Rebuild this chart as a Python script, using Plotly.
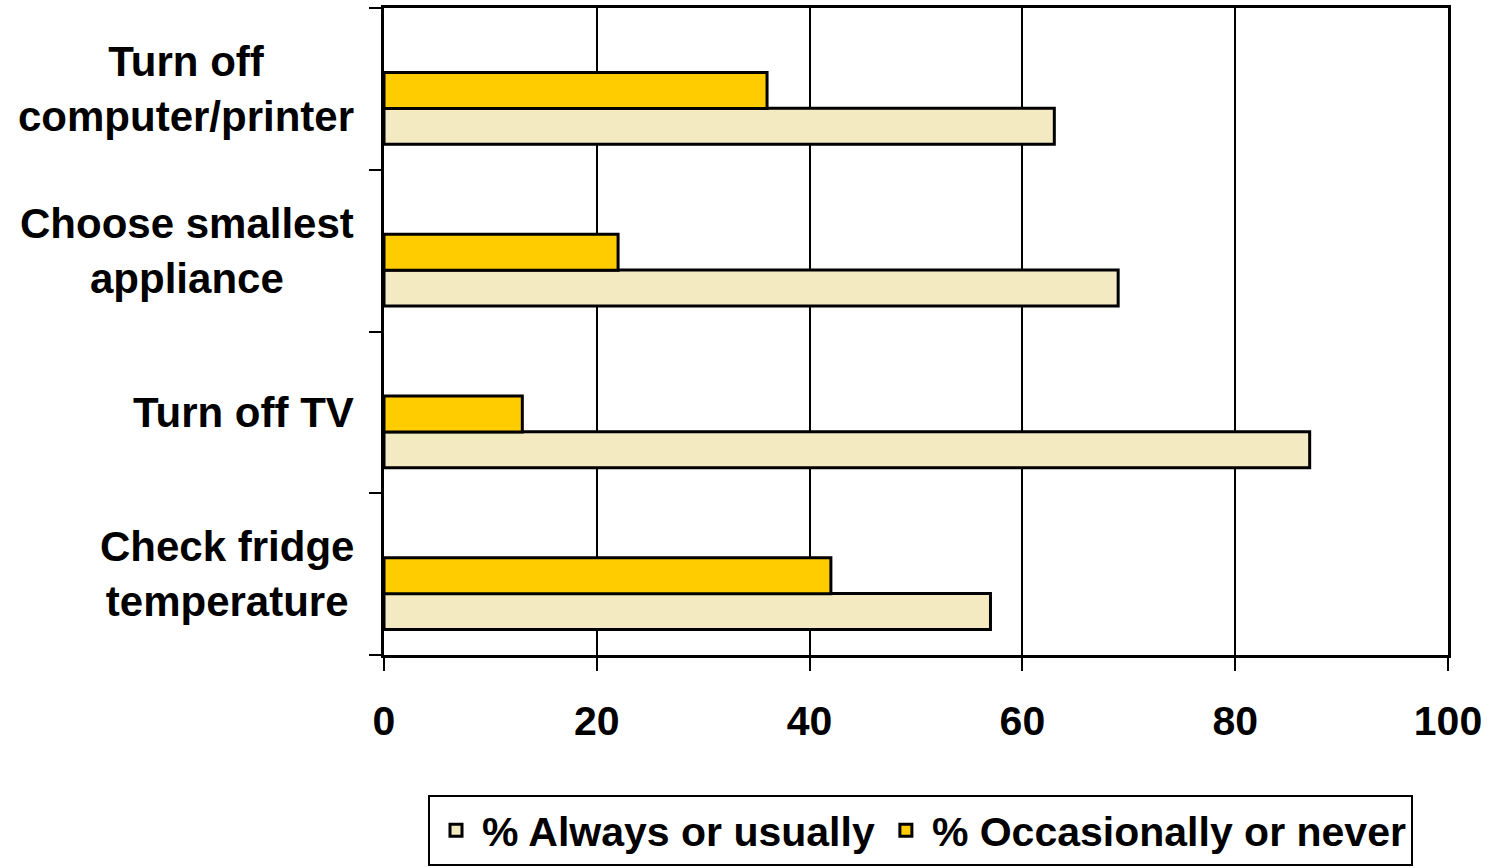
import plotly.graph_objects as go

# Survey of energy-saving habits (percent of respondents)
categories = ["Check fridge<br>temperature", "Turn off TV",
              "Choose smallest<br>appliance", "Turn off<br>computer/printer"]
always_usually = [57, 87, 69, 63]
occasionally_never = [42, 13, 22, 36]
x_ticks = [0, 20, 40, 60, 80, 100]

FONT = "Liberation Sans, Arial, sans-serif"
BEIGE = "#F3EAC2"
YELLOW = "#FFCC00"

fig = go.Figure()
fig.add_trace(go.Bar(
    y=categories, x=always_usually, orientation="h",
    name="% Always or usually", marker=dict(color=BEIGE, line=dict(color="black", width=3)),
    width=0.2226, offset=-0.343,
))
fig.add_trace(go.Bar(
    y=categories, x=occasionally_never, orientation="h",
    name="% Occasionally or never", marker=dict(color=YELLOW, line=dict(color="black", width=3)),
    width=0.2226, offset=-0.1206,
))

# Category labels: right-aligned block, lines centred within each block
for cat in categories:
    fig.add_annotation(
        x=-0.0263, xref="paper", y=cat, yref="y",
        text=cat, showarrow=False, xanchor="right", yanchor="middle", align="center",
        font=dict(family=FONT, size=42, color="black", weight="bold"),
    )

fig.update_layout(
    width=1490, height=868,
    margin=dict(l=384, r=42, t=8, b=213, autoexpand=False),
    paper_bgcolor="white", plot_bgcolor="white",
    barmode="overlay",
    showlegend=True,
    legend=dict(
        orientation="h", xref="container", x=428 / 1490, xanchor="left",
        yref="container", y=1 - 795 / 868, yanchor="top",
        bordercolor="black", borderwidth=2, bgcolor="white",
        font=dict(family=FONT, size=41, color="black", weight="bold"),
        traceorder="normal", itemwidth=42,
    ),
)
fig.update_xaxes(
    range=[0, 100], tickvals=x_ticks, ticktext=[str(v) for v in x_ticks],
    showgrid=True, gridcolor="black", gridwidth=2,
    showline=True, linecolor="black", linewidth=3, mirror=True,
    ticks="outside", ticklen=13, tickwidth=2, tickcolor="black",
    ticklabelstandoff=15,
    tickfont=dict(family=FONT, size=41, color="black", weight="bold"),
    zeroline=False, fixedrange=True,
)
fig.update_yaxes(
    categoryorder="array", categoryarray=categories,
    range=[-0.5, 3.5],
    showticklabels=False, tickson="boundaries",
    ticks="outside", ticklen=12, tickwidth=2, tickcolor="black",
    showline=True, linecolor="black", linewidth=3, mirror=True,
    showgrid=False, zeroline=False, fixedrange=True,
)

fig.write_html("out.html")
